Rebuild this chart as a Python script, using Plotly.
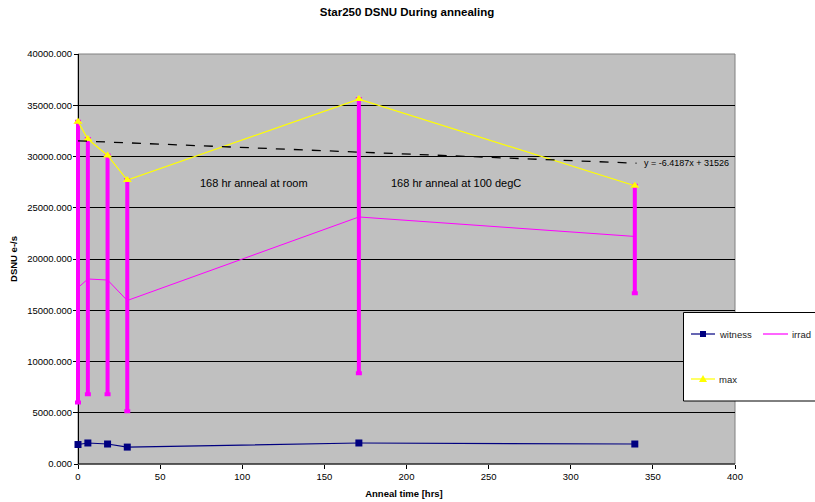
import plotly.graph_objects as go

# ---- data ----
hours = [0, 6, 18, 30, 171, 339]
witness = [1900, 2050, 1950, 1650, 2050, 1950]
irrad = [17200, 18050, 17950, 15950, 24100, 22200]
irrad_max = [33400, 31700, 30100, 27700, 35600, 27150]
irrad_min = [6000, 6800, 6800, 5150, 8850, 16650]
trend_slope = -6.4187
trend_intercept = 31526
trend_x = [0, 340]
x_ticks = [0, 50, 100, 150, 200, 250, 300, 350, 400]
y_ticks = [0, 5000, 10000, 15000, 20000, 25000, 30000, 35000, 40000]

FONT = "Liberation Sans, Arial, sans-serif"
NAVY = "#000080"
MAG = "#FF00FF"
YEL = "#FFFF00"

err_plus = [m - v for m, v in zip(irrad_max, irrad)]
err_minus = [v - m for m, v in zip(irrad_min, irrad)]
trend_y = [trend_slope * x + trend_intercept for x in trend_x]

# geometry (pixels); axis origin at x=78, plot extended a few px left so bars at x=0 are not clipped
W, H = 815, 502
AX0, AX1 = 78, 735
EXT = 5
L, R, T, B = AX0 - EXT, W - AX1, 54, 38
pw, ph = W - L - R, H - T - B
units_per_px = 400 / (AX1 - AX0)
xmin = -EXT * units_per_px

def px(x):
    return (x - L) / pw
def py(y):
    return (H - B - y) / ph

fig = go.Figure()

fig.add_trace(go.Scatter(
    x=hours, y=irrad, mode="lines", name="irrad", cliponaxis=False,
    line=dict(color=MAG, width=1),
    error_y=dict(type="data", symmetric=False, array=err_plus, arrayminus=err_minus,
                 color=MAG, thickness=4, width=3),
))
fig.add_trace(go.Scatter(
    x=hours, y=irrad_max, mode="lines+markers", name="max", cliponaxis=False,
    line=dict(color=YEL, width=1.2),
    marker=dict(symbol="triangle-up", size=8, color=YEL),
))
fig.add_trace(go.Scatter(
    x=hours, y=witness, mode="lines+markers", name="witness", cliponaxis=False,
    line=dict(color=NAVY, width=1.2),
    marker=dict(symbol="square", size=7, color=NAVY),
))
fig.add_trace(go.Scatter(
    x=trend_x, y=trend_y, mode="lines", name="trend",
    line=dict(color="black", width=1.3, dash="dash"),
))

annotations = []
for t, xx, yy in [("168 hr anneal at room", 198, 183), ("168 hr anneal at 100 degC", 389, 183)]:
    annotations.append(dict(x=px(xx), y=py(yy), xref="paper", yref="paper", text=t,
                            showarrow=False, xanchor="left", yanchor="middle",
                            font=dict(family=FONT, size=11, color="black")))

annotations.append(dict(x=px(642), y=py(163), xref="paper", yref="paper",
                        text="y = -6.4187x + 31526", showarrow=False,
                        xanchor="left", yanchor="middle",
                        font=dict(family=FONT, size=9, color="black")))

shapes = [
    # white strip left of y axis (covers gray bg + gridlines, below traces)
    dict(type="rect", xref="x", yref="paper", x0=xmin, x1=0, y0=0, y1=1,
         fillcolor="white", line=dict(width=0), layer="between"),
    # plot border (gray)
    dict(type="rect", xref="paper", yref="paper", x0=px(AX0), x1=1, y0=0, y1=1,
         line=dict(color="#808080", width=1), layer="below"),
    # legend box
    dict(type="rect", xref="paper", yref="paper", x0=px(683.5), x1=px(830),
         y0=py(401), y1=py(312.5), fillcolor="white", line=dict(color="black", width=1)),
    dict(type="line", xref="paper", yref="paper", x0=px(691), x1=px(715), y0=py(334), y1=py(334),
         line=dict(color=NAVY, width=1.2)),
    dict(type="rect", xref="paper", yref="paper", x0=px(700), x1=px(706), y0=py(337), y1=py(331),
         fillcolor=NAVY, line=dict(color=NAVY, width=0)),
    dict(type="line", xref="paper", yref="paper", x0=px(763), x1=px(788), y0=py(334), y1=py(334),
         line=dict(color=MAG, width=1.2)),
    dict(type="line", xref="paper", yref="paper", x0=px(691), x1=px(715), y0=py(379), y1=py(379),
         line=dict(color=YEL, width=1.2)),
    dict(type="path", xref="paper", yref="paper",
         path=f"M {px(703)},{py(375)} L {px(707)},{py(382)} L {px(699)},{py(382)} Z",
         fillcolor=YEL, line=dict(color=YEL, width=0)),
]
for t, xx, yy in [("witness", 717, 334), ("irrad", 790, 334), ("max", 717, 379)]:
    annotations.append(dict(x=px(xx), y=py(yy), xref="paper", yref="paper", text=t,
                            showarrow=False, xanchor="left", yanchor="middle",
                            font=dict(family=FONT, size=9.5, color="#222")))

fig.update_layout(
    width=W, height=H,
    margin=dict(l=L, r=R, t=T, b=B, pad=0, autoexpand=False),
    paper_bgcolor="white", plot_bgcolor="#C0C0C0",
    showlegend=False,
    title=dict(text="<b>Star250 DSNU During annealing</b>", x=407 / W, xanchor="center",
               y=1 - 12 / H, yanchor="middle", font=dict(family=FONT, size=11.5, color="black")),
    font=dict(family=FONT, size=9.5, color="black"),
    annotations=annotations,
    shapes=shapes,
)
fig.update_xaxes(
    range=[xmin, 400], tickvals=x_ticks, ticktext=[str(v) for v in x_ticks],
    showgrid=False, zeroline=False, showline=False,
    ticks="outside", ticklen=4, tickcolor="black", automargin=False,
    tickfont=dict(family=FONT, size=9.5),
    title=dict(text="<b>Anneal time [hrs]</b>", font=dict(family=FONT, size=9.5), standoff=8),
)
fig.update_yaxes(
    range=[0, 40000], tickvals=y_ticks, ticktext=[f"{v:.3f}" for v in y_ticks],
    showgrid=True, gridcolor="black", gridwidth=1, zeroline=False,
    showline=True, linecolor="black", linewidth=1, layer="below traces",
    anchor="free", position=EXT / pw,
    ticks="outside", ticklen=4, tickcolor="black", automargin=False,
    tickfont=dict(family=FONT, size=9.5),
    title=dict(text="<b>DSNU e-/s</b>", font=dict(family=FONT, size=9.5), standoff=6),
)
# x axis line from origin to right edge
fig.add_shape(type="line", xref="x", yref="paper", x0=0, x1=400, y0=0, y1=0,
              line=dict(color="black", width=1), layer="above")

fig.write_html("out.html")
